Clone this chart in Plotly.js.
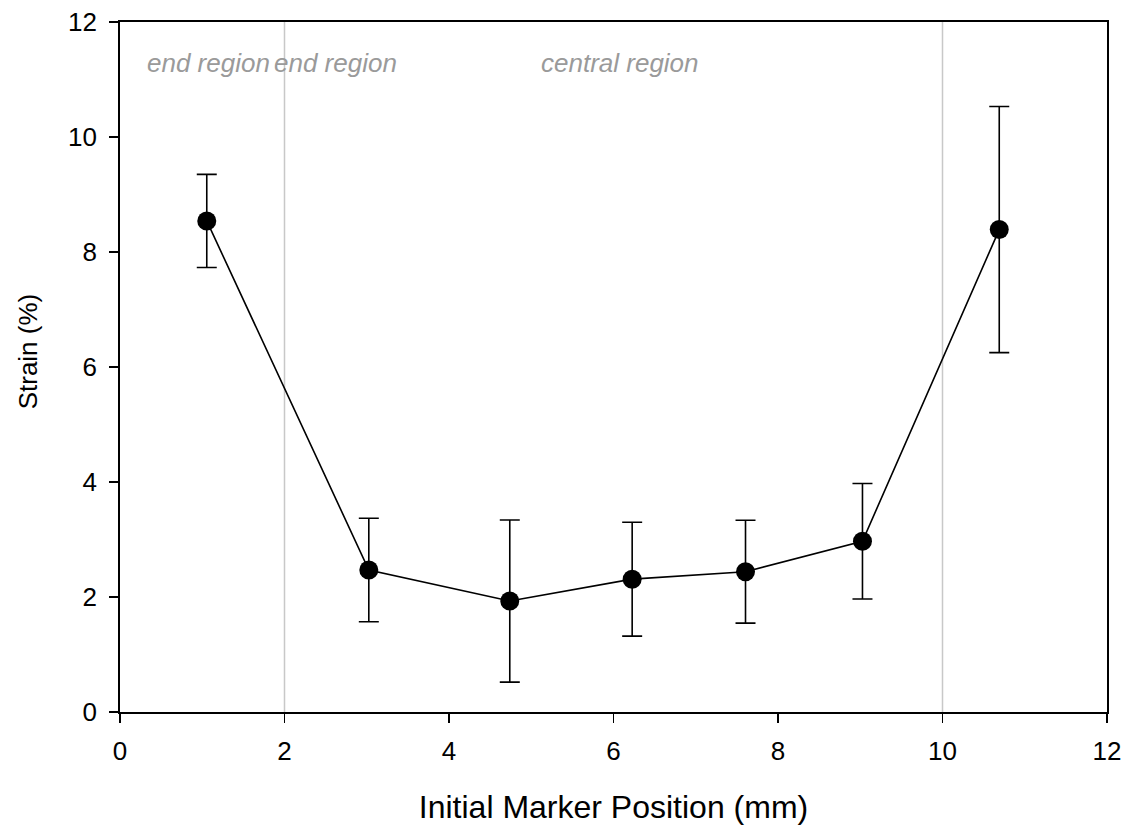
<!DOCTYPE html>
<html>
<head>
<meta charset="utf-8">
<script src="https://cdn.plot.ly/plotly-3.0.1.min.js"></script>
<style>html,body{margin:0;padding:0;background:#fff;}#chart{width:1125px;height:825px;}</style>
</head>
<body>
<div id="chart"></div>
<script>
// Data
const markerPosition = [1.055, 3.025, 4.739, 6.227, 7.605, 9.027, 10.69];
const strainPct      = [8.54, 2.47, 1.93, 2.31, 2.44, 2.97, 8.39];
const strainErr      = [0.81, 0.90, 1.41, 0.99, 0.895, 1.005, 2.14];
const regionBounds   = [2, 10];
const regionLabels   = ["end region", "end region", "central region"];
const regionLabelX   = [1.082, 2.62, 6.08];
const xTicks = [0, 2, 4, 6, 8, 10, 12];
const yTicks = [0, 2, 4, 6, 8, 10, 12];

const FONT = "Liberation Sans, Arial, sans-serif";

const trace = {
  x: markerPosition,
  y: strainPct,
  type: "scatter",
  mode: "lines+markers",
  line: {color: "#000", width: 1.6},
  marker: {color: "#000", size: 19},
  error_y: {type: "data", array: strainErr, visible: true, color: "#000", thickness: 1.6, width: 10},
  cliponaxis: false,
  hoverinfo: "skip"
};

const shapes = regionBounds.map(b => ({
  type: "line", xref: "x", yref: "paper", x0: b, x1: b, y0: 0, y1: 1,
  line: {color: "#c8c8c8", width: 1.5}, layer: "below"
}));

const annotations = regionLabels.map((t, i) => ({
  text: t, x: regionLabelX[i], y: 11.29, xref: "x", yref: "y",
  showarrow: false, xanchor: "center", yanchor: "middle",
  font: {family: FONT, size: 26, color: "#9a9a9a", style: "italic"}
}));
annotations.push({
  text: "Strain (%)", xref: "paper", yref: "paper",
  x: -0.093, y: 0.523, xanchor: "center", yanchor: "middle",
  textangle: -90, showarrow: false,
  font: {family: FONT, size: 26, color: "#000"}
});

const layout = {
  width: 1125, height: 825,
  margin: {l: 120, r: 18, t: 22, b: 113},
  paper_bgcolor: "#fff", plot_bgcolor: "#fff",
  showlegend: false,
  font: {family: FONT, color: "#000"},
  xaxis: {
    range: [0, 12], tickvals: xTicks, ticktext: xTicks.map(String),
    showgrid: false, zeroline: false,
    showline: true, linecolor: "#000", linewidth: 1.6, mirror: true,
    ticks: "outside", ticklen: 9, tickwidth: 1.6, tickcolor: "#000",
    ticklabelstandoff: 6,
    tickfont: {family: FONT, size: 26, color: "#000"},
    title: {text: "Initial Marker Position (mm)", font: {family: FONT, size: 32, color: "#000"}, standoff: 38}
  },
  yaxis: {
    range: [0, 12], tickvals: yTicks, ticktext: yTicks.map(v => v + "\u00a0"),
    showgrid: false, zeroline: false,
    showline: true, linecolor: "#000", linewidth: 1.6, mirror: true,
    ticks: "outside", ticklen: 9, tickwidth: 1.6, tickcolor: "#000",
    tickfont: {family: FONT, size: 26, color: "#000"}
  },
  shapes: shapes,
  annotations: annotations
};

Plotly.newPlot("chart", [trace], layout, {displayModeBar: false, staticPlot: true});
</script>
</body>
</html>
